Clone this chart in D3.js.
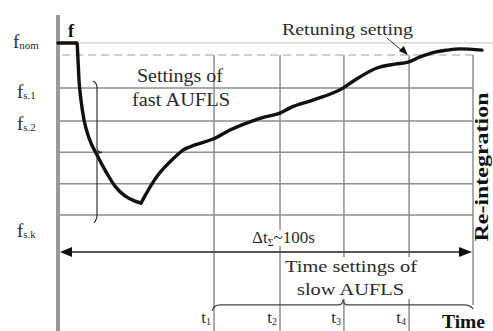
<!DOCTYPE html>
<html><head><meta charset="utf-8">
<script src="https://cdn.jsdelivr.net/npm/d3@7"></script>
<style>
body{margin:0;background:#fff}
svg{display:block}
text{font-family:"Liberation Serif","Times New Roman",serif;fill:#2a2a2a}
</style>
</head><body>
<svg id="c" width="493" height="331"></svg>
<script>
// ---- data (time in s, frequency in grid steps above f_s,k) ----
const curveTime = [0, 4.58, 4.82, 5.06, 5.54, 6.27, 7.47, 9.40, 11.57, 13.73, 16.14, 18.55, 20.0,
  20.96, 22.17, 24.10, 25.78, 28.19, 30.12, 33.01, 37.35, 41.45, 46.27, 49.88, 53.49, 55.90,
  61.45, 68.67, 71.57, 76.87, 81.20, 84.34, 87.23, 90.84, 93.73, 96.87, 102.17];
const curveFreq = [5.30, 5.30, 4.78, 4.16, 3.54, 2.93, 2.37, 1.85, 1.33, 0.89, 0.59, 0.43, 0.37,
  0.59, 0.86, 1.23, 1.48, 1.79, 2.00, 2.16, 2.34, 2.62, 2.87, 3.02, 3.14, 3.30,
  3.54, 3.91, 4.16, 4.53, 4.65, 4.71, 4.87, 5.02, 5.08, 5.12, 5.08];
const fNom = 5.30;
const fRetune = 4.93;
const fastLevels = [3.91, 2.90, 1.93, 0.96, 0];
const fastLevelLabels = ["s.1", "s.2", "", "", "s.k"];
const slowTimes = [37.6, 53.5, 68.9, 84.6];
const slowTimeLabels = ["1", "2", "3", "4"];
const reintegrationTime = 100;
const deltaTotal = 100;

// ---- scales ----
const x = d3.scaleLinear().domain([0, 100]).range([58, 473]);
const y = d3.scaleLinear().domain([0, 5.30]).range([215, 43]);

const svg = d3.select("#c");
const grid = "#8e8e8e";

// nominal line
svg.append("line").attr("x1", x(0)).attr("x2", 493).attr("y1", y(fNom)).attr("y2", y(fNom))
  .attr("stroke", "#c4c4c4").attr("stroke-width", 1.2);
// retuning dashed line
svg.append("line").attr("x1", x(1)).attr("x2", x(reintegrationTime)).attr("y1", y(fRetune)).attr("y2", y(fRetune))
  .attr("stroke", "#a0a0a0").attr("stroke-width", 1.2).attr("stroke-dasharray", "8,5");
// fast setting levels
svg.selectAll("line.lev").data(fastLevels).join("line").attr("class", "lev")
  .attr("x1", x(0)).attr("x2", x(reintegrationTime)).attr("y1", d => y(d)).attr("y2", d => y(d))
  .attr("stroke", grid).attr("stroke-width", 1.5);
// slow time settings
svg.selectAll("line.ts").data(slowTimes).join("line").attr("class", "ts")
  .attr("x1", d => x(d)).attr("x2", d => x(d)).attr("y1", y(fRetune)).attr("y2", 331)
  .attr("stroke", grid).attr("stroke-width", 1.5);
// re-integration boundary
svg.append("line").attr("x1", x(reintegrationTime)).attr("x2", x(reintegrationTime))
  .attr("y1", y(fRetune)).attr("y2", y(-2.77)).attr("stroke", grid).attr("stroke-width", 1.5);

// y axis
svg.append("line").attr("x1", x(0)).attr("x2", x(0)).attr("y1", 15).attr("y2", 331)
  .attr("stroke", "#9a9a9a").attr("stroke-width", 4);

// delta-t arrow
const ya = y(-1.14);
svg.append("line").attr("x1", x(0) + 8).attr("x2", x(deltaTotal) - 8).attr("y1", ya).attr("y2", ya)
  .attr("stroke", "#555").attr("stroke-width", 2);
svg.append("path").attr("d", `M${x(0) + 2},${ya} l12,-5 l0,10 z`).attr("fill", "#111");
svg.append("path").attr("d", `M${x(deltaTotal) - 1},${ya} l-13,-5 l0,10 z`).attr("fill", "#111");

// frequency curve (fall and recovery)
const pts = curveTime.map((t, i) => ({t, f: curveFreq[i]}));
const iMin = d3.minIndex(curveFreq);
const line = d3.line().x(d => x(d.t)).y(d => y(d.f)).curve(d3.curveMonotoneX);
[pts.slice(0, iMin + 1), pts.slice(iMin)].forEach(seg => {
  svg.append("path").attr("d", line(seg)).attr("fill", "none")
    .attr("stroke", "#111").attr("stroke-width", 3.4).attr("stroke-linejoin", "round").attr("stroke-linecap", "round");
});

// fast AUFLS brace
const bx = x(9.4), bt = y(4.07), bm = y(1.93), bb = y(-0.15);
svg.append("path").attr("d",
  `M${bx - 4},${bt - 2} Q${bx},${bt} ${bx},${bt + 5} L${bx},${bm - 4} Q${bx},${bm} ${bx + 5},${bm} Q${bx},${bm} ${bx},${bm + 4} L${bx},${bb - 5} Q${bx},${bb} ${bx - 3},${bb + 3}`)
  .attr("fill", "none").attr("stroke", "#222").attr("stroke-width", 1.1);

// slow AUFLS brace
const sy = y(-2.77), sl = x(slowTimes[0]), sr = x(99.3), st = x(68.7);
svg.append("path").attr("d",
  `M${sl - 2},${sy + 6} Q${sl},${sy} ${sl + 6},${sy} L${st - 5},${sy} Q${st},${sy} ${st},${sy - 6} Q${st},${sy} ${st + 5},${sy} L${sr - 6},${sy} Q${sr},${sy} ${sr + 3},${sy + 4}`)
  .attr("fill", "none").attr("stroke", "#444").attr("stroke-width", 1.1);

// white box behind slow text
svg.append("rect").attr("x", 283).attr("y", 257).attr("width", 136).attr("height", 42).attr("fill", "#fff");
svg.append("rect").attr("x", 250).attr("y", 230).attr("width", 76).attr("height", 16).attr("fill", "#fff");

// retuning arrow
const rx = x(84.3), ry = y(fRetune);
svg.append("line").attr("x1", rx - 21).attr("y1", ry - 17).attr("x2", rx - 4).attr("y2", ry - 3)
  .attr("stroke", "#333").attr("stroke-width", 1);
svg.append("path").attr("d", `M${rx},${ry} L${rx - 9},${ry - 4} L${rx - 4},${ry - 9} Z`).attr("fill", "#111");

// ---- texts ----
function txt(s, px, py, size, len, opts = {}) {
  const t = svg.append("text").attr("x", px).attr("y", py).attr("font-size", size).text(s);
  if (len) t.attr("textLength", len).attr("lengthAdjust", "spacingAndGlyphs");
  if (opts.bold) t.attr("font-weight", "bold").style("fill", "#111");
  if (opts.anchor) t.attr("text-anchor", opts.anchor);
  return t;
}
txt("Settings of", 137, 82, 18, 86);
txt("fast AUFLS", 132, 106, 18, 98);
txt("Retuning setting", 282, 35, 17, 131);
txt("Time settings of", 285, 272, 17, 132);
txt("slow AUFLS", 297, 295, 17, 107);
txt("f", 68, 37, 18, null, {bold: true});
txt("Time", 442, 328, 18, 43, {bold: true});
svg.append("text").attr("transform", "translate(488,167) rotate(-90)")
  .attr("text-anchor", "middle").attr("font-size", 18).attr("font-weight", "bold")
  .attr("textLength", 149).attr("lengthAdjust", "spacingAndGlyphs").style("fill", "#111")
  .text("Re-integration");

// delta t label
const dt = svg.append("text").attr("x", 252).attr("y", 243).attr("font-size", 17);
dt.append("tspan").text("Δt");
dt.append("tspan").attr("font-size", 10).attr("dy", 3).text("Σ");
dt.append("tspan").attr("dy", -3).text("~100s");

// frequency labels
function fLabel(sub, py, px) {
  const t = svg.append("text").attr("x", px).attr("y", py).attr("font-size", 19);
  t.append("tspan").text("f");
  t.append("tspan").attr("font-size", 11).attr("dy", 1).text(sub);
}
fLabel("nom", y(fNom) + 5, 13);
const labOff = [10, 9, 0, 0, 22];
fastLevels.forEach((v, i) => { if (fastLevelLabels[i]) fLabel(fastLevelLabels[i], y(v) + labOff[i], 17); });

// t labels
slowTimes.forEach((v, i) => {
  const t = svg.append("text").attr("x", x(v) - 3).attr("y", 323).attr("font-size", 17).attr("text-anchor", "end");
  t.append("tspan").text("t");
  t.append("tspan").attr("font-size", 10).attr("dy", 2).text(slowTimeLabels[i]);
});
</script>
</body></html>
